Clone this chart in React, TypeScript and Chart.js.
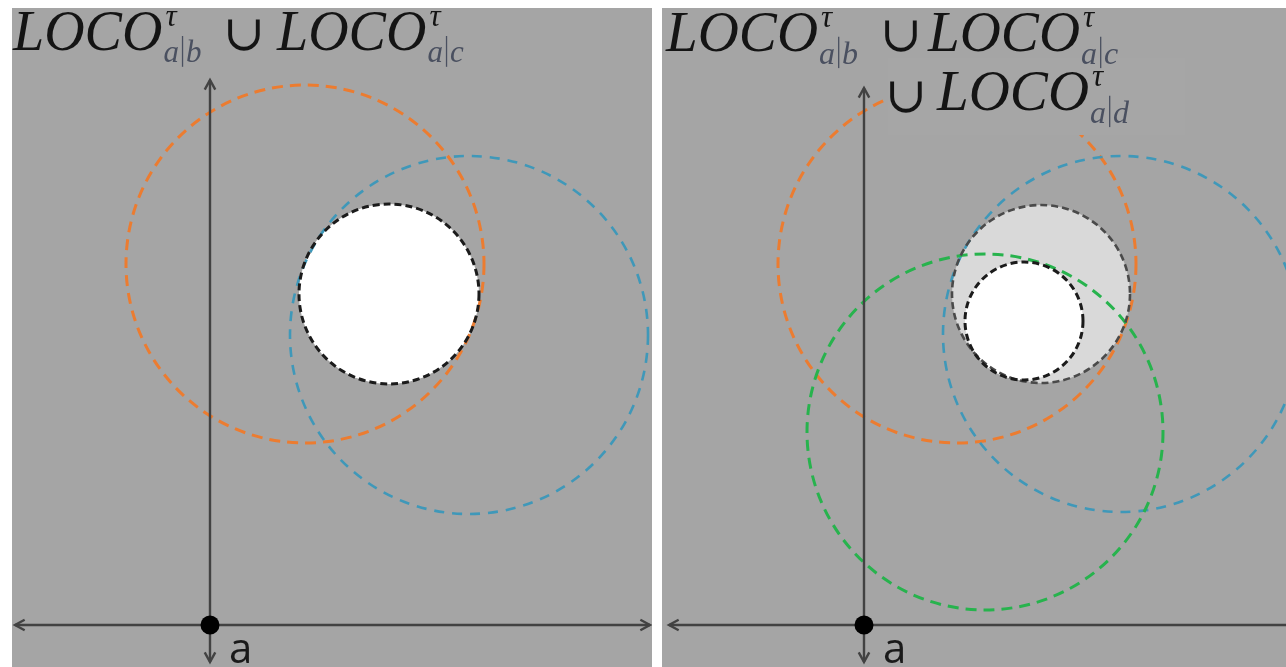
import React, { useEffect, useRef } from "react";
import { Chart, registerables } from "chart.js";
Chart.register(...registerables);

// ---------- data (units: distance from point a) ----------
// Left panel: LOCO_{a|b} ∪ LOCO_{a|c}
const leftNames = ["LOCO a|b", "LOCO a|c", "intersection"];
const leftCx = [95, 259, 179];
const leftCy = [361, 290, 331];
const leftR = [179, 179, 90];

// Right panel: LOCO_{a|b} ∪ LOCO_{a|c} ∪ LOCO_{a|d}
const rightNames = ["LOCO a|b", "LOCO a|c", "LOCO a|d", "intersection b,c", "intersection b,c,d"];
const rightCx = [93, 257, 121, 177, 160];
const rightCy = [361, 291, 193, 331, 304];
const rightR = [179, 178, 178, 89, 59];

const originPoint = [{ x: 0, y: 0 }];
const pointLabel = "a";
const leftTitleSubs = ["a|b", "a|c"];
const rightTitleSubs = ["a|b", "a|c", "a|d"];

// ---------- styles ----------
const BG = "#a5a5a5";
const ORANGE = "#ec7c30";
const BLUE = "#3f98b9";
const GREEN = "#27b34d";
const AXIS = "#424242";

type St = { fill?: string; stroke: string; width: number; dash: number[] };
const leftStyles: St[] = [
  { stroke: ORANGE, width: 3, dash: [11, 7] },
  { stroke: BLUE, width: 2.6, dash: [10, 8] },
  { fill: "#ffffff", stroke: "#1b1b1b", width: 3, dash: [7, 4] },
];
const rightStyles: St[] = [
  { stroke: ORANGE, width: 3, dash: [11, 7] },
  { stroke: BLUE, width: 2.6, dash: [10, 8] },
  { stroke: GREEN, width: 3, dash: [11, 7] },
  { fill: "#d9d9d9", stroke: "#4a4a4a", width: 2.6, dash: [7, 4] },
  { fill: "#ffffff", stroke: "#1b1b1b", width: 3, dash: [7, 4] },
];

function arrowHead(ctx: CanvasRenderingContext2D, fx: number, fy: number, tx: number, ty: number) {
  const a = Math.atan2(ty - fy, tx - fx);
  const L = 11;
  const s = 0.5;
  ctx.beginPath();
  ctx.moveTo(tx - L * Math.cos(a - s), ty - L * Math.sin(a - s));
  ctx.lineTo(tx, ty);
  ctx.lineTo(tx - L * Math.cos(a + s), ty - L * Math.sin(a + s));
  ctx.stroke();
}

function drawLoco(ctx: CanvasRenderingContext2D, x: number, base: number, sub: string, size: number) {
  ctx.fillStyle = "#141414";
  ctx.font = `italic ${size}px "Liberation Serif"`;
  ctx.fillText("LOCO", x, base);
  const w = ctx.measureText("LOCO").width;
  const sx = x + w + 1;
  ctx.font = `italic ${Math.round(size * 0.55)}px "Liberation Serif"`;
  ctx.fillText("τ", sx + 2, base - size * 0.42);
  ctx.fillStyle = "#4a5060";
  ctx.font = `italic ${Math.round(size * 0.56)}px "Liberation Serif"`;
  ctx.fillText(sub[0], sx, base + size * 0.22);
  const aw = ctx.measureText(sub[0]).width;
  ctx.fillRect(sx + aw + 3, base - size * 0.25, 1.3, size * 0.55);
  ctx.fillText(sub[2], sx + aw + 7, base + size * 0.22);
}

function drawUnion(ctx: CanvasRenderingContext2D, x: number, base: number) {
  ctx.fillStyle = "#141414";
  ctx.font = `50px "DejaVu Serif"`;
  ctx.fillText("∪", x, base);
}

type PanelProps = {
  left: number;
  top: number;
  width: number;
  height: number;
  xMin: number;
  xMax: number;
  yMin: number;
  yMax: number;
  cx: number[];
  cy: number[];
  r: number[];
  names: string[];
  styles: St[];
  hAxis: [number, number, boolean, boolean];
  vAxis: [number, number];
  hide?: [number, number, number, number];
  titles: (ctx: CanvasRenderingContext2D) => void;
};

function Panel(p: PanelProps) {
  const ref = useRef<HTMLCanvasElement | null>(null);
  useEffect(() => {
    const canvas = ref.current!;
    const plugin = {
      id: "panelDraw",
      beforeDraw(chart: any) {
        const ctx = chart.ctx;
        ctx.save();
        ctx.fillStyle = BG;
        ctx.fillRect(0, 0, chart.width, chart.height);
        ctx.restore();
      },
      beforeDatasetsDraw(chart: any) {
        const ctx: CanvasRenderingContext2D = chart.ctx;
        const xs = chart.scales.x;
        const ys = chart.scales.y;
        const geo = p.cx.map((c, i) => {
          const px = xs.getPixelForValue(c);
          const py = ys.getPixelForValue(p.cy[i]);
          const pr = Math.abs(xs.getPixelForValue(c + p.r[i]) - px);
          return { px, py, pr };
        });
        ctx.save();
        geo.forEach((g, i) => {
          const s = p.styles[i];
          if (!s.fill) return;
          ctx.beginPath();
          ctx.arc(g.px, g.py, g.pr, 0, Math.PI * 2);
          ctx.fillStyle = s.fill;
          ctx.fill();
        });
        const stroke = (i: number) => {
          const g = geo[i];
          const s = p.styles[i];
          ctx.beginPath();
          ctx.arc(g.px, g.py, g.pr, 0, Math.PI * 2);
          ctx.setLineDash(s.dash);
          ctx.lineWidth = s.width;
          ctx.strokeStyle = s.stroke;
          ctx.stroke();
        };
        geo.forEach((_, i) => {
          if (!p.styles[i].fill) stroke(i);
        });
        geo.forEach((_, i) => {
          if (p.styles[i].fill) stroke(i);
        });
        ctx.setLineDash([]);
        if (p.hide) {
          const [x0, x1, y0, y1] = p.hide;
          const X0 = xs.getPixelForValue(x0);
          const X1 = xs.getPixelForValue(x1);
          const Y0 = ys.getPixelForValue(y0);
          const Y1 = ys.getPixelForValue(y1);
          ctx.fillStyle = "#a6a6a6";
          ctx.fillRect(X0, Y0, X1 - X0, Y1 - Y0);
        }
        ctx.strokeStyle = AXIS;
        ctx.lineWidth = 2.4;
        const [h0, h1, arrL, arrR] = p.hAxis;
        const y0 = ys.getPixelForValue(0);
        const x0 = xs.getPixelForValue(0);
        const hx0 = xs.getPixelForValue(h0);
        const hx1 = xs.getPixelForValue(h1);
        ctx.beginPath();
        ctx.moveTo(hx0, y0);
        ctx.lineTo(hx1, y0);
        ctx.stroke();
        if (arrL) arrowHead(ctx, hx1, y0, hx0, y0);
        if (arrR) arrowHead(ctx, hx0, y0, hx1, y0);
        const vy0 = ys.getPixelForValue(p.vAxis[0]);
        const vy1 = ys.getPixelForValue(p.vAxis[1]);
        ctx.beginPath();
        ctx.moveTo(x0, vy0);
        ctx.lineTo(x0, vy1);
        ctx.stroke();
        arrowHead(ctx, x0, vy1, x0, vy0);
        arrowHead(ctx, x0, vy0, x0, vy1);
        ctx.restore();
      },
      afterDraw(chart: any) {
        const ctx: CanvasRenderingContext2D = chart.ctx;
        const xs = chart.scales.x;
        const ys = chart.scales.y;
        ctx.save();
        ctx.textBaseline = "alphabetic";
        ctx.fillStyle = "#1a1a1a";
        ctx.font = `42px "Open Sans"`;
        ctx.fillText(pointLabel, xs.getPixelForValue(0) + 19, ys.getPixelForValue(0) + 38);
        p.titles(ctx);
        ctx.restore();
      },
    };
    const chart = new Chart(canvas, {
      type: "scatter",
      data: {
        datasets: [
          {
            label: pointLabel,
            data: originPoint,
            pointRadius: 9.5,
            pointBackgroundColor: "#000",
            pointBorderWidth: 0,
            clip: false,
          },
        ],
      },
      options: {
        animation: false,
        responsive: false,
        maintainAspectRatio: false,
        layout: { padding: 0, autoPadding: false },
        events: [],
        scales: {
          x: { type: "linear", min: p.xMin, max: p.xMax, display: false },
          y: { type: "linear", min: p.yMin, max: p.yMax, display: false },
        },
        plugins: { legend: { display: false }, tooltip: { enabled: false }, title: { display: false } },
      },
      plugins: [plugin],
    });
    return () => chart.destroy();
  }, []);
  return (
    <canvas
      ref={ref}
      width={p.width}
      height={p.height}
      style={{ position: "absolute", left: p.left, top: p.top, width: p.width, height: p.height }}
    />
  );
}

export default function App() {
  const leftTitles = (ctx: CanvasRenderingContext2D) => {
    drawLoco(ctx, 1, 42, leftTitleSubs[0], 56);
    drawUnion(ctx, 211, 42);
    drawLoco(ctx, 265, 42, leftTitleSubs[1], 56);
  };
  const rightTitles = (ctx: CanvasRenderingContext2D) => {
    drawLoco(ctx, 4, 43, rightTitleSubs[0], 57);
    drawUnion(ctx, 218, 43);
    drawLoco(ctx, 266, 43, rightTitleSubs[1], 57);
    drawUnion(ctx, 223, 104);
    drawLoco(ctx, 275, 102, rightTitleSubs[2], 57);
  };
  return (
    <div style={{ position: "absolute", left: 0, top: 0, width: 1286, height: 667, background: "#fff", overflow: "hidden" }}>
      <Panel
        left={12}
        top={8}
        width={640}
        height={659}
        xMin={-198}
        xMax={442}
        yMin={-42}
        yMax={617}
        cx={leftCx}
        cy={leftCy}
        r={leftR}
        names={leftNames}
        styles={leftStyles}
        hAxis={[-195, 440, true, true]}
        vAxis={[-37, 545]}
        titles={leftTitles}
      />
      <Panel
        left={662}
        top={8}
        width={624}
        height={659}
        xMin={-202}
        xMax={422}
        yMin={-42}
        yMax={617}
        cx={rightCx}
        cy={rightCy}
        r={rightR}
        names={rightNames}
        styles={rightStyles}
        hAxis={[-195, 440, true, false]}
        vAxis={[-37, 537]}
        hide={[24, 321, 567, 490]}
        titles={rightTitles}
      />
    </div>
  );
}
